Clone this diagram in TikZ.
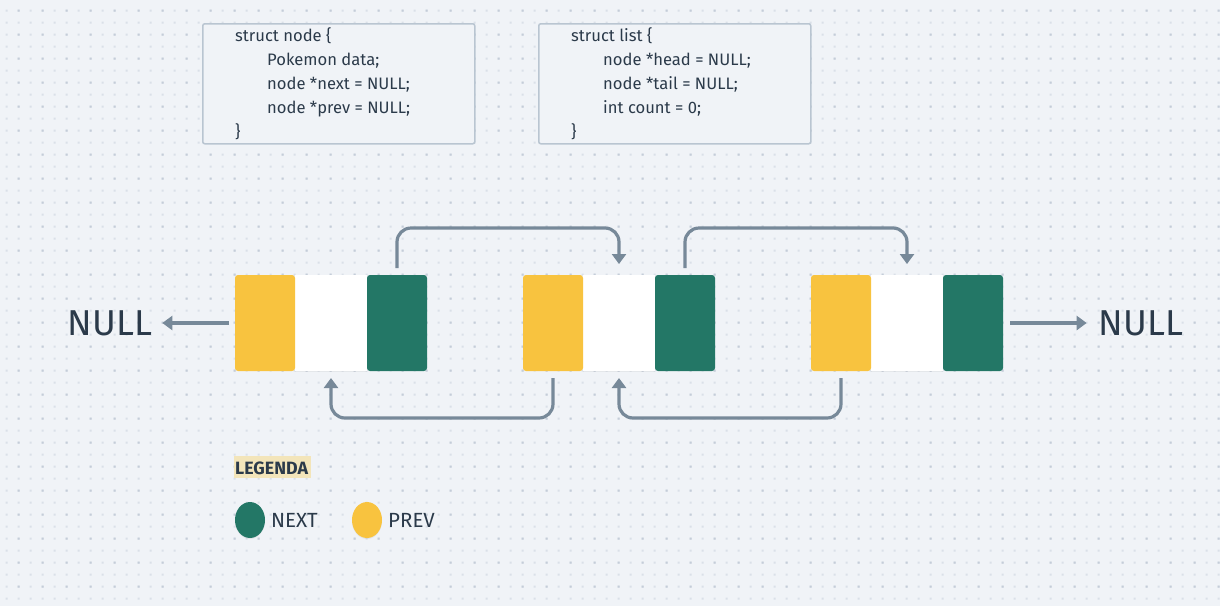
\documentclass[tikz,border=0pt]{standalone}
\usepackage{fontspec}
\setmainfont{Fira Sans}
\usetikzlibrary{arrows.meta,shadows,shapes.geometric}
\definecolor{bg}{HTML}{F0F3F7}
\definecolor{dotl}{HTML}{DAE0E8}
\definecolor{dotd}{HTML}{C4CDD9}
\definecolor{yel}{HTML}{F8C33F}
\definecolor{grn}{HTML}{237766}
\definecolor{arrc}{HTML}{778999}
\definecolor{txt}{HTML}{2B3A4A}
\definecolor{boxb}{HTML}{B9C5D1}
\definecolor{hl}{HTML}{F3E5BA}
\begin{document}
\begin{tikzpicture}[x=1pt,y=-1pt,
  cell/.style={inner sep=0pt,outer sep=0pt,minimum height=96pt,anchor=north west},
  pcell/.style={cell,fill=yel,rounded corners=3pt,minimum width=60pt},
  dcell/.style={cell,fill=white,minimum width=72pt},
  ncell/.style={cell,fill=grn,rounded corners=3pt,minimum width=60pt},
  shd/.style={drop shadow={shadow xshift=0pt,shadow yshift=-1pt,opacity=0.10}},
  arr/.style={draw=arrc,line width=3.2pt,rounded corners=14pt,-{Triangle[width=14pt,length=10pt]}},
  codebox/.style={draw=boxb,line width=1.5pt,fill=bg,rounded corners=2pt,inner sep=0pt,minimum width=272pt,minimum height=120pt,anchor=north west},
  code/.style={anchor=base west,inner sep=0pt,text=txt,font=\fontsize{16.6}{19}\selectfont},
  nulltxt/.style={inner sep=0pt,text=txt,font=\fontsize{36}{40}\selectfont},
  legtxt/.style={anchor=base west,inner sep=0pt,text=txt,font=\fontsize{20.5}{24}\selectfont},
  legdot/.style={ellipse,inner sep=0pt,minimum width=30pt,minimum height=36pt,drop shadow={shadow xshift=0pt,shadow yshift=-1pt,opacity=0.12}}
]
\useasboundingbox (0,0) rectangle (1220,606);
\fill[bg] (0,0) rectangle (1220,606);
% dot grid
\fill[dotl] \foreach \i in {0,...,101} {\foreach \j in {0,...,49} {(5.7+12*\i,9.7+12*\j) rectangle ++(2,2)}};
\fill[dotd] \foreach \i in {0,...,50} {\foreach \j in {0,...,24} {(17.7+24*\i,9.7+24*\j) rectangle ++(2,2)}};

% struct boxes
\node[codebox] (s1) at (202,23) {};
\node[code] (s1a) at (235,41) {struct node \{};
\node[code] (s1b) at (267,65) {Pokemon data;};
\node[code] (s1c) at (267,89) {node *next = NULL;};
\node[code] (s1d) at (267,113) {node *prev = NULL;};
\node[code] (s1e) at (235,137) {\}};

\node[codebox] (s2) at (538,23) {};
\node[code] (s2a) at (571,41) {struct list \{};
\node[code] (s2b) at (603,65) {node *head = NULL;};
\node[code] (s2c) at (603,89) {node *tail = NULL;};
\node[code] (s2d) at (603,113) {int count = 0;};
\node[code] (s2e) at (571,137) {\}};

% list nodes
\node[dcell,shd] (n1d) at (295,275) {};
\node[pcell] (n1p) at (235,275) {};
\node[ncell] (n1n) at (367,275) {};

\node[dcell,shd] (n2d) at (583,275) {};
\node[pcell] (n2p) at (523,275) {};
\node[ncell] (n2n) at (655,275) {};

\node[dcell,shd] (n3d) at (871,275) {};
\node[pcell] (n3p) at (811,275) {};
\node[ncell] (n3n) at (943,275) {};

% NULL labels
\node[nulltxt] (nullL) at (110,323) {NULL};
\node[nulltxt] (nullR) at (1141,323) {NULL};

% next arrows
\draw[arr] ([yshift=7pt]n1n.north) -- ++(0,-40) -| ([yshift=11pt]n2d.north);
\draw[arr] ([yshift=7pt]n2n.north) -- ++(0,-40) -| ([yshift=11pt]n3d.north);
% prev arrows
\draw[arr] ([yshift=-7pt]n2p.south) -- ++(0,40) -| ([yshift=-7pt]n1d.south);
\draw[arr] ([yshift=-7pt]n3p.south) -- ++(0,40) -| ([yshift=-7pt]n2d.south);
% null arrows
\draw[arr] ([xshift=-6pt]n1p.west) -- ([xshift=10pt]nullL.east);
\draw[arr] ([xshift=7pt]n3n.east) -- ([xshift=-12pt]nullR.west);

% legend
\fill[hl] (234,456) rectangle (311,478);
\node[anchor=base west,inner sep=0pt,text=txt,font=\bfseries\fontsize{17.8}{20}\selectfont] (leg) at (235,474) {LEGENDA};
\node[legdot,fill=grn] (lgn) at (250,520) {};
\node[legtxt] (lgnt) at (271,527) {NEXT};
\node[legdot,fill=yel] (lgp) at (367,520) {};
\node[legtxt] (lgpt) at (388,527) {PREV};
\end{tikzpicture}
\end{document}
